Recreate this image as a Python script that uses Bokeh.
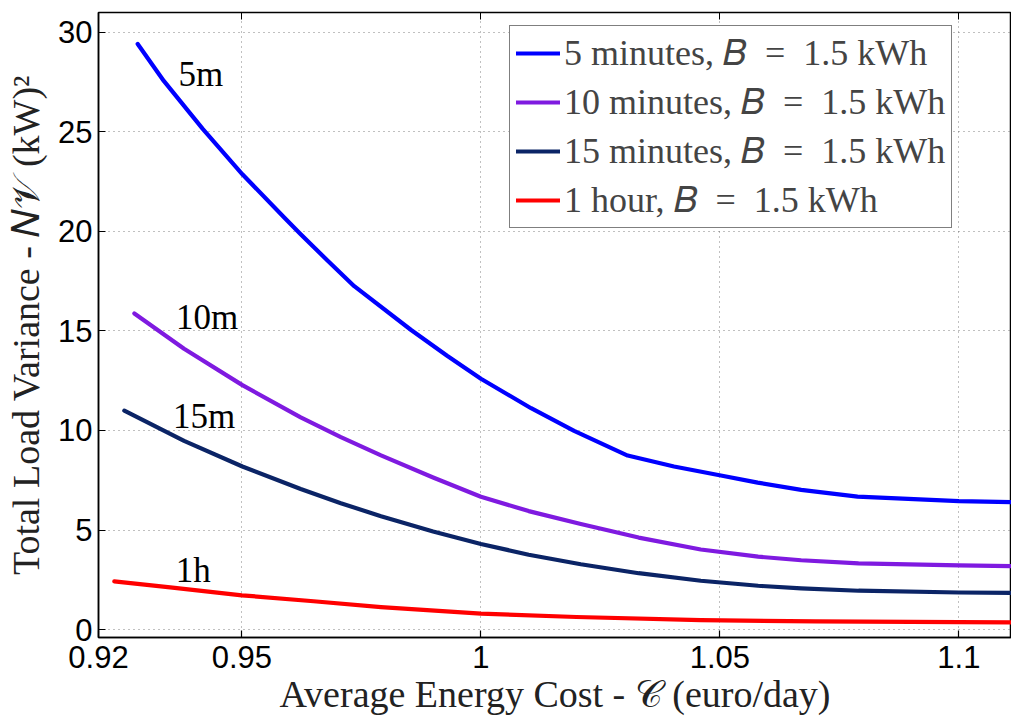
from bokeh.plotting import figure
from bokeh.models import (FixedTicker, LinearAxis, Range1d, Legend, LegendItem, Label,
                          CustomJSTickFormatter)
from bokeh.embed import file_html
from bokeh.resources import INLINE

# ---- data ----
x_5m = [0.9282, 0.9337, 0.9418, 0.9501, 0.9589, 0.9623, 0.9679, 0.9735, 0.9854, 0.993, 1.0,
        1.0105, 1.0195, 1.0307, 1.0404, 1.0502, 1.0579, 1.067, 1.0788, 1.10, 1.111]
y_5m = [29.42, 27.55, 25.15, 22.87, 20.69, 19.86, 18.54, 17.25, 15.05, 13.74, 12.60,
        11.12, 9.98, 8.74, 8.19, 7.74, 7.38, 7.02, 6.68, 6.45, 6.40]

x_10m = [0.9275, 0.9379, 0.9501, 0.9623, 0.9707, 0.9791, 0.99, 1.0, 1.01, 1.0209, 1.033,
         1.046, 1.058, 1.067, 1.079, 1.10, 1.111]
y_10m = [15.88, 14.11, 12.28, 10.66, 9.67, 8.75, 7.64, 6.67, 5.95, 5.30, 4.62,
         4.02, 3.66, 3.48, 3.32, 3.22, 3.19]

x_15m = [0.9254, 0.9379, 0.9501, 0.9623, 0.9707, 0.9791, 0.99, 1.0, 1.01, 1.0209, 1.033,
         1.046, 1.058, 1.067, 1.079, 1.10, 1.111]
y_15m = [11.0, 9.475, 8.19, 7.06, 6.35, 5.69, 4.93, 4.30, 3.76, 3.28, 2.83,
         2.45, 2.20, 2.07, 1.95, 1.86, 1.84]

x_1h = [0.9233, 0.935, 0.95, 0.965, 0.9791, 1.0, 1.02, 1.046, 1.07, 1.10, 1.111]
y_1h = [2.42, 2.12, 1.72, 1.42, 1.13, 0.80, 0.63, 0.47, 0.41, 0.37, 0.36]

EQ = "\u2002=\u2002"
series_names = ["5 minutes, \U0001D435" + EQ + "1.5 kWh", "10 minutes, \U0001D435" + EQ + "1.5 kWh",
                "15 minutes, \U0001D435" + EQ + "1.5 kWh", "1 hour, \U0001D435" + EQ + "1.5 kWh"]
series_colors = ["#0000FF", "#7F1AE0", "#0B2466", "#FF0000"]

curve_labels = ["5m", "10m", "15m", "1h"]
curve_label_x = [0.9414, 0.9427, 0.9421, 0.9398]
curve_label_y = [27.9, 15.7, 10.7, 2.95]

x_ticks = [0.92, 0.95, 1.0, 1.05, 1.1]
x_tick_labels = ["0.92", "0.95", "1", "1.05", "1.1"]
y_ticks = [0, 5, 10, 15, 20, 25, 30]

SERIF = "Liberation Serif"
SANS = "Liberation Sans"

p = figure(width=1011, height=718, output_backend="svg", toolbar_location=None,
           x_range=Range1d(0.92, 1.111), y_range=Range1d(-0.4, 31),
           min_border_left=98, min_border_top=12, min_border_right=0, min_border_bottom=81)
p.outline_line_color = "black"
p.outline_line_width = 1.5

xs_all = [x_5m, x_10m, x_15m, x_1h]
ys_all = [y_5m, y_10m, y_15m, y_1h]
renderers = []
for xs, ys, c in zip(xs_all, ys_all, series_colors):
    r = p.line(xs, ys, line_color=c, line_width=4.2, line_join="round", line_cap="round")
    renderers.append(r)

for t, lx, ly in zip(curve_labels, curve_label_x, curve_label_y):
    p.add_layout(Label(x=lx, y=ly, text=t, text_font=SERIF, text_font_size="35px",
                       text_align="center", text_baseline="middle", text_color="black"))

# axes
xa = p.xaxis[0]
xa.ticker = FixedTicker(ticks=x_ticks)
xa.major_label_overrides = {t: l for t, l in zip(x_ticks, x_tick_labels)}
ya = p.yaxis[0]
ya.ticker = FixedTicker(ticks=y_ticks)
for ax in (xa, ya):
    ax.major_tick_in = 7
    ax.major_tick_out = 0
    ax.minor_tick_in = 0
    ax.minor_tick_out = 0
    ax.axis_line_width = 1.5
    ax.major_tick_line_width = 1.2
    ax.major_label_text_font = SANS
    ax.major_label_text_font_size = "31px"
    ax.major_label_text_color = "black"
    ax.axis_label_text_font = SERIF
    ax.axis_label_text_font_size = "38px"
    ax.axis_label_text_font_style = "normal"
    ax.axis_label_text_color = "#222222"
xa.major_label_standoff = 8
ya.major_label_standoff = 6
xa.axis_label = "Average Energy Cost - \U0001D49E (euro/day)"
ya.axis_label = "Total Load Variance - \U0001D441\U0001D4B1 (kW)\u00B2"
xa.axis_label_standoff = 2
ya.axis_label_standoff = 8

top = LinearAxis(ticker=FixedTicker(ticks=x_ticks),
                 formatter=CustomJSTickFormatter(code="return ''"),
                 major_tick_in=7, major_tick_out=0, minor_tick_in=0, minor_tick_out=0,
                 axis_line_color=None, major_label_standoff=0)
p.add_layout(top, "above")

p.grid.grid_line_color = "#555555"
p.grid.grid_line_dash = "1 4"
p.grid.grid_line_alpha = 0.75
p.xgrid.ticker = FixedTicker(ticks=x_ticks)
p.ygrid.ticker = FixedTicker(ticks=y_ticks)

items = [LegendItem(label=n, renderers=[r]) for n, r in zip(series_names, renderers)]
legend = Legend(items=items, location=(411, 409))
legend.label_text_font = SERIF
legend.label_text_font_size = "36px"
legend.label_height = 40
legend.glyph_height = 40
legend.glyph_width = 44
legend.spacing = 7
legend.padding = 6
legend.margin = 0
legend.label_standoff = 4
legend.border_line_color = "black"
legend.border_line_width = 1.2
legend.background_fill_color = "white"
legend.background_fill_alpha = 1
p.add_layout(legend, "center")

open("out.html", "w").write(file_html(p, INLINE))
